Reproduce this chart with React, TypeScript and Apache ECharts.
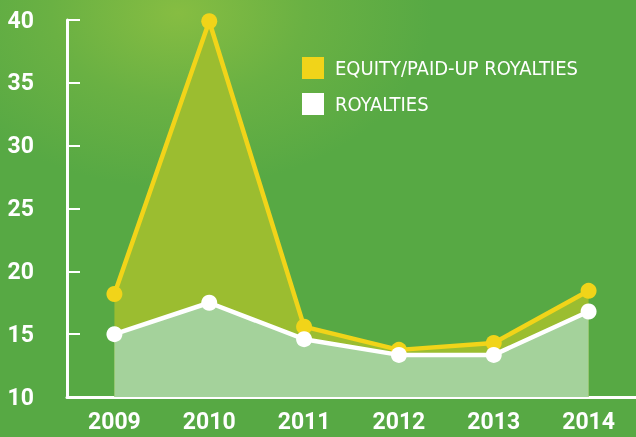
import React, { useEffect, useRef } from "react";
import * as echarts from "echarts";

const years = ["2009", "2010", "2011", "2012", "2013", "2014"];
const equityRoyalties = [18.2, 39.9, 15.6, 13.75, 14.3, 18.45];
const royalties = [15.0, 17.5, 14.6, 13.35, 13.35, 16.8];
const seriesNames = ["EQUITY/PAID-UP ROYALTIES", "ROYALTIES"];

const AXIS_FONT = "Roboto, 'DejaVu Sans Condensed', sans-serif";
const LEGEND_FONT = "'DejaVu Sans Condensed', 'DejaVu Sans', sans-serif";

export default function App() {
  const ref = useRef<HTMLDivElement>(null);
  useEffect(() => {
    if (!ref.current) return;
    const chart = echarts.init(ref.current, null, { renderer: "svg" });
    chart.setOption({
      animation: false,
      backgroundColor: {
        type: "radial",
        x: 0.28,
        y: 0.03,
        r: 0.4,
        colorStops: [
          { offset: 0, color: "#86bd42" },
          { offset: 0.5, color: "#6ab143" },
          { offset: 1, color: "#57a944" },
        ],
      },
      textStyle: { fontFamily: AXIS_FONT },
      legend: {
        orient: "vertical",
        left: 302,
        top: 57,
        padding: 0,
        itemWidth: 22,
        itemHeight: 22,
        itemGap: 14,
        icon: "rect",
        textStyle: { color: "#ffffff", fontSize: 20, fontFamily: LEGEND_FONT, padding: [0, 0, 0, 6] },
        data: seriesNames,
      },
      grid: { left: 67, right: -1, top: 20, bottom: 40, containLabel: false },
      xAxis: {
        type: "category",
        data: years,
        boundaryGap: true,
        axisLine: { lineStyle: { color: "#ffffff", width: 3 } },
        axisTick: { inside: true, length: 8, lineStyle: { color: "#ffffff", width: 2 } },
        axisLabel: { color: "#ffffff", fontSize: 23, fontWeight: "bold", fontFamily: AXIS_FONT, margin: 13 },
        splitLine: { show: false },
      },
      yAxis: {
        type: "value",
        min: 10,
        max: 40,
        interval: 5,
        axisLine: { show: true, lineStyle: { color: "#ffffff", width: 3 } },
        axisTick: { show: true, inside: true, length: 13, lineStyle: { color: "#ffffff", width: 2 } },
        axisLabel: { color: "#ffffff", fontSize: 23, fontWeight: "bold", fontFamily: AXIS_FONT, margin: 33 },
        splitLine: { show: false },
      },
      series: [
        {
          name: seriesNames[0],
          type: "line",
          data: equityRoyalties,
          symbol: "circle",
          symbolSize: 16,
          lineStyle: { color: "#f1d419", width: 4.5 },
          itemStyle: { color: "#f1d419" },
          areaStyle: { color: "#9bbd30", opacity: 1 },
          z: 2,
        },
        {
          name: seriesNames[1],
          type: "line",
          data: royalties,
          symbol: "circle",
          symbolSize: 16,
          lineStyle: { color: "#ffffff", width: 4.5 },
          itemStyle: { color: "#ffffff" },
          areaStyle: { color: "#a4d29b", opacity: 1 },
          z: 3,
        },
      ],
    });
    return () => chart.dispose();
  }, []);
  return <div ref={ref} style={{ width: 636, height: 437, position: "fixed", left: 0, top: 0 }} />;
}
